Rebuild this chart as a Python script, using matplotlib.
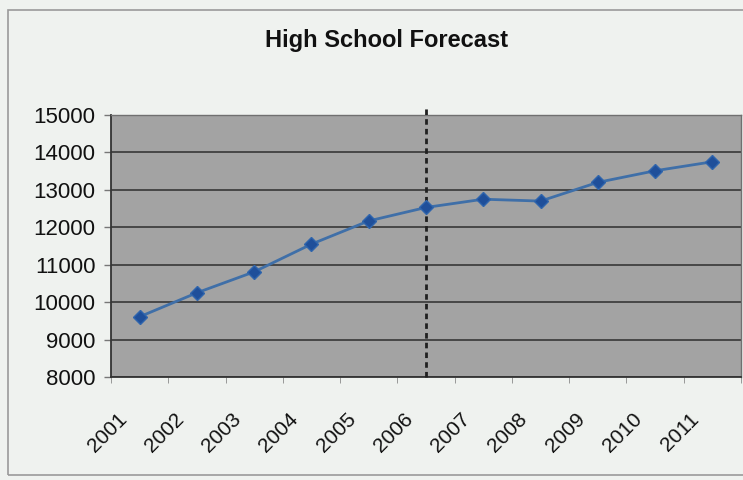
import matplotlib
matplotlib.use("Agg")
import matplotlib.pyplot as plt
import matplotlib.transforms as mtransforms
from matplotlib.patches import Rectangle
import numpy as np

years = ['2001', '2002', '2003', '2004', '2005', '2006',
         '2007', '2008', '2009', '2010', '2011']
enrollment = [9610, 10250, 10810, 11550, 12170, 12530,
              12750, 12700, 13200, 13510, 13750]
y_ticks = [8000, 9000, 10000, 11000, 12000, 13000, 14000, 15000]
split_year = '2006'

plt.rcParams['font.family'] = ['Liberation Sans', 'DejaVu Sans']

fig = plt.figure(figsize=(7.43, 4.80), dpi=100, facecolor='#eff2ef')
ax = fig.add_axes([111/743, 1 - 377/480, 630/743, 262/480])
ax.set_facecolor('#a3a3a3')

# outer chart border (cropped on the right)
fig.patches.append(Rectangle((8/743, 5/480), 1.2, 1 - 15/480, transform=fig.transFigure,
                             fill=False, ec='#9a9a9a', lw=1.2))

x = np.arange(len(years))
ax.plot(x, enrollment, color='#3f6fa8', lw=2, marker='D', ms=7,
        mfc='#1f4f9a', mec='#2f65ad', zorder=4)

ax.axvline(years.index(split_year), ymin=0, ymax=1.03, color='#202020',
           ls=(0, (2, 1.5)), lw=2, clip_on=False, zorder=3)

ax.set_xlim(-0.5, len(years) - 0.5)
ax.set_ylim(8000, 15000)
ax.set_yticks(y_ticks)
ax.set_yticklabels([str(v) for v in y_ticks], fontsize=16, color='#111111')
ax.yaxis.grid(True, color='#383838', lw=1.2)
ax.set_axisbelow(True)
ax.tick_params(axis='y', length=5, width=1, color='#777777', pad=6)

ax.set_xticks(x)
ax.set_xticklabels(years, rotation=45, ha='right', va='center',
                   rotation_mode='anchor', fontsize=15, color='#111111')
ax.set_xticks(np.arange(-0.5, len(years), 1), minor=True)
ax.tick_params(axis='x', which='major', length=0, pad=28)
ax.tick_params(axis='x', which='minor', length=4, color='#8a8a8a')
offset = mtransforms.ScaledTranslation(-16/100, 0, fig.dpi_scale_trans)
for lab in ax.get_xticklabels():
    lab.set_transform(lab.get_transform() + offset)

for side in ['top', 'right']:
    ax.spines[side].set_color('#707070')
    ax.spines[side].set_linewidth(1)
for side in ['left', 'bottom']:
    ax.spines[side].set_color('#333333')
    ax.spines[side].set_linewidth(1.3)

fig.text(387/743, 1 - 41/480, 'High School Forecast', ha='center', va='center',
         fontsize=17, fontweight='bold', color='#111111')

fig.savefig('out.png', dpi=100, facecolor=fig.get_facecolor())
